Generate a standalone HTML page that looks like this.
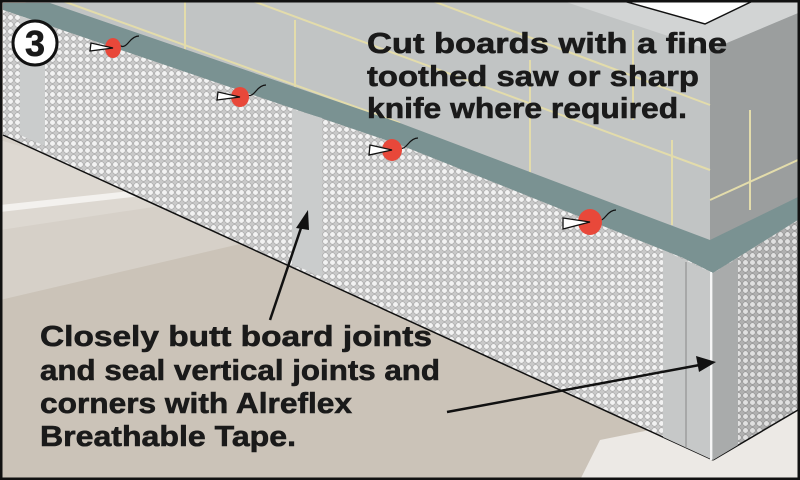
<!DOCTYPE html>
<html><head><meta charset="utf-8"><style>
html,body{margin:0;padding:0;background:#fff}
svg{display:block}
text{font-family:"Liberation Sans",Arial,sans-serif;font-weight:bold;fill:#1a1a1a;stroke:#1a1a1a;stroke-width:0.6}
</style></head><body>
<svg width="800" height="480" viewBox="0 0 800 480" xmlns="http://www.w3.org/2000/svg">
<defs>
<pattern id="dots" width="7" height="7" patternUnits="userSpaceOnUse">
<rect width="7" height="7" fill="#c9c9c9"/>
<circle cx="3.5" cy="3.5" r="2.8" fill="#f2f2f2" stroke="#a5a5a5" stroke-width="0.6"/>
</pattern>
<pattern id="dots2" width="7" height="7" patternUnits="userSpaceOnUse">
<rect width="7" height="7" fill="#b0b0b0"/>
<circle cx="3.5" cy="3.5" r="2.8" fill="#e0e0e0" stroke="#909090" stroke-width="0.6"/>
</pattern>
</defs>
<rect width="800" height="480" fill="#d6d0c8"/>
<polygon points="0,300 300,230 800,380 800,480 0,480" fill="#cbc3b8"/>
<polygon points="0,140 200,200 0,230" fill="#ddd8d1"/>
<polygon points="0,205 140,190 150,195 0,212" fill="#f3f1ee"/>
<polygon points="600,440 800,400 800,480 580,480" fill="#ece9e5"/>
<polygon points="0,0 800,0 800,200 710,243 400,123 17,0" fill="#c1c4c4"/>
<polygon points="710,50 798,13 798,200 710,243" fill="#9b9e9e"/>
<polygon points="600,0 798,0 798,13 710,50 560,0" fill="#d2d4d4"/>
<polygon points="620,0 705,24 755,0" fill="#fff" stroke="#111" stroke-width="1.5"/>
<g stroke="#e3dcab" stroke-width="2" fill="none">
<line x1="60" y1="0" x2="400" y2="123"/>
<line x1="250" y1="0" x2="710" y2="170"/>
<line x1="430" y1="0" x2="710" y2="105"/>
<line x1="185" y1="0" x2="185" y2="60"/>
<line x1="295" y1="20" x2="295" y2="100"/>
<line x1="530" y1="60" x2="530" y2="185"/>
<line x1="633" y1="30" x2="633" y2="120"/>
<line x1="672" y1="140" x2="672" y2="225"/>
<line x1="710" y1="200" x2="798" y2="160"/>
<line x1="750" y1="110" x2="750" y2="210"/>
</g>
<polygon points="3,3 50,3 400,123 710,240 798,197 798,220 713,273 683,258 400,145 3,10" fill="#7a9292"/>
<polygon points="3,10 400,145 683,258 713,273 713,460 3,135" fill="url(#dots)"/>
<polygon points="713,273 798,220 798,410 713,460" fill="url(#dots2)"/>
<line x1="3" y1="135" x2="713" y2="460" stroke="#111" stroke-width="1.5"/>
<line x1="713" y1="460" x2="798" y2="410" stroke="#111" stroke-width="1.5"/>
<polygon points="20,16 45,24 45,146 20,135" fill="#cacccc"/>
<polygon points="292,109 322,118 322,277 292,264" fill="#cacccc"/>
<polygon points="663,250 713,273 713,460 663,437" fill="#c6c8c8"/>
<line x1="686" y1="262" x2="686" y2="448" stroke="#888" stroke-width="1"/>
<line x1="711" y1="272" x2="711" y2="460" stroke="#f5f5f5" stroke-width="2"/>
<polygon points="713,273 738,258 738,445 713,460" fill="#a9abab"/>
<g>
<g transform="translate(113,48)"><path d="M0,0 q5,-4 8,-2 t8,-4 t10,-6" fill="none" stroke="#111" stroke-width="1.2"/><ellipse rx="8" ry="10" fill="#e8483a"/><polygon points="0,0 -23,3 -22,-5" fill="#fff" stroke="#111" stroke-width="1.3"/></g>
<g transform="translate(240,97)"><path d="M0,0 q5,-4 8,-2 t8,-4 t10,-6" fill="none" stroke="#111" stroke-width="1.2"/><ellipse rx="9" ry="10" fill="#e8483a"/><polygon points="0,0 -23,3 -22,-5" fill="#fff" stroke="#111" stroke-width="1.3"/></g>
<g transform="translate(392,150)"><path d="M0,0 q5,-4 8,-2 t8,-4 t10,-6" fill="none" stroke="#111" stroke-width="1.2"/><ellipse rx="10" ry="11" fill="#e8483a"/><polygon points="0,0 -23,5 -22,-5" fill="#fff" stroke="#111" stroke-width="1.3"/></g>
<g transform="translate(590,222)"><path d="M0,0 q5,-4 8,-2 t8,-4 t10,-6" fill="none" stroke="#111" stroke-width="1.2"/><ellipse rx="12" ry="13" fill="#e8483a"/><polygon points="0,0 -27,7 -27,-4" fill="#fff" stroke="#111" stroke-width="1.3"/></g>
</g>
<line x1="270" y1="320" x2="303" y2="222" stroke="#111" stroke-width="2.5"/>
<polygon points="308,210 296,228 309,230" fill="#111"/>
<line x1="447" y1="412" x2="705" y2="364" stroke="#111" stroke-width="2.5"/>
<polygon points="716,362 696,356 699,372" fill="#111"/>
<circle cx="35" cy="43" r="22" fill="#fff" stroke="#111" stroke-width="3"/>
<text x="35" y="56" font-size="36" text-anchor="middle">3</text>
<g font-size="29">
<text x="367" y="53" textLength="360" lengthAdjust="spacingAndGlyphs">Cut boards with a fine</text>
<text x="367" y="86" textLength="332" lengthAdjust="spacingAndGlyphs">toothed saw or sharp</text>
<text x="367" y="118" textLength="320" lengthAdjust="spacingAndGlyphs">knife where required.</text>
<text x="40" y="346" textLength="392" lengthAdjust="spacingAndGlyphs">Closely butt board joints</text>
<text x="40" y="380" textLength="400" lengthAdjust="spacingAndGlyphs">and seal vertical joints and</text>
<text x="40" y="413" textLength="312" lengthAdjust="spacingAndGlyphs">corners with Alreflex</text>
<text x="40" y="446" textLength="256" lengthAdjust="spacingAndGlyphs">Breathable Tape.</text>
</g>
<rect x="1" y="1" width="798" height="478" fill="none" stroke="#111" stroke-width="3"/>
</svg>
</body></html>
